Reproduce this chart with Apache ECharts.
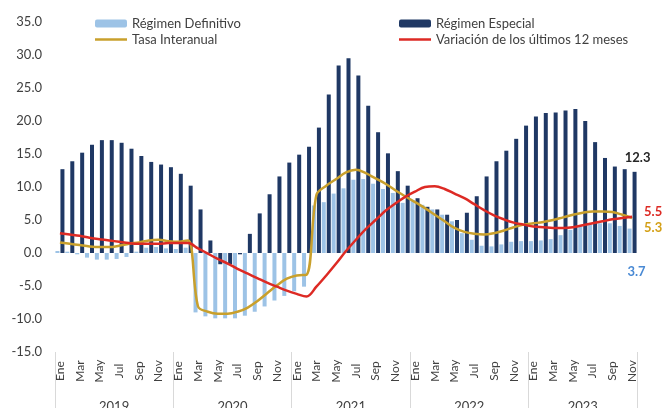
<!DOCTYPE html>
<html><head><meta charset="utf-8">
<script src="https://cdn.jsdelivr.net/npm/echarts@6/dist/echarts.min.js"></script>
<style>html,body{margin:0;padding:0;background:#fff}#c{width:664px;height:408px}</style>
</head><body><div id="c"></div>
<script>
const years = ['2019','2020','2021','2022','2023'];
const monthNames = ['Ene','Feb','Mar','Abr','May','Jun','Jul','Ago','Sep','Oct','Nov','Dic'];
const monthsPerYear = [12,12,12,12,11];

const regimenDefinitivo = [
  0.3, 0.2, -0.2, -0.7, -1.0, -1.0, -0.9, -0.6, 0.2, 0.8, 0.9, 0.7,
  0.6, 0.8, -9.0, -9.6, -9.9, -9.9, -9.9, -9.5, -8.9, -8.1, -7.2, -6.5,
  -5.8, -5.1, 7.2, 7.7, 9.0, 9.8, 11.1, 11.2, 10.5, 9.7, 9.1, 7.6,
  8.0, 7.3, 6.6, 5.8, 4.8, 3.0, 2.0, 1.1, 1.0, 1.3, 1.7, 1.8,
  1.8, 1.9, 2.1, 2.7, 3.5, 4.1, 4.4, 4.5, 4.5, 4.1, 3.7
];
const regimenEspecial = [
  12.7, 13.9, 15.2, 16.4, 17.1, 17.1, 16.7, 15.8, 14.7, 13.8, 13.4, 13.0,
  12.0, 10.2, 6.6, 1.9, -1.7, -1.7, -0.2, 2.9, 6.0, 8.9, 11.6, 13.7,
  14.9, 16.1, 19.0, 24.0, 28.4, 29.5, 26.9, 22.3, 18.3, 15.1, 12.4, 10.2,
  8.3, 7.0, 6.6, 5.8, 5.0, 6.1, 8.6, 11.6, 13.9, 15.5, 17.3, 19.3,
  20.7, 21.2, 21.3, 21.6, 21.8, 20.0, 16.8, 14.4, 13.1, 12.7, 12.3
];
const tasaInteranual = [
  1.6, 1.4, 1.2, 1.0, 0.9, 0.9, 1.1, 1.4, 1.6, 1.9, 2.0, 1.8,
  1.7, 1.9, -8.1, -8.9, -9.2, -9.2, -8.9, -8.3, -7.3, -6.1, -4.9, -3.9,
  -3.4, -3.3, 8.8, 10.2, 11.2, 12.2, 12.6, 12.1, 11.3, 10.5, 9.5, 8.6,
  7.7, 6.8, 5.8, 4.8, 3.8, 3.2, 2.9, 2.8, 3.0, 3.4, 3.9, 4.3,
  4.5, 4.7, 5.0, 5.4, 5.8, 6.1, 6.3, 6.3, 6.2, 5.8, 5.3
];
const variacion12 = [
  3.0, 2.8, 2.6, 2.3, 2.1, 1.9, 1.7, 1.5, 1.4, 1.4, 1.4, 1.5,
  1.5, 1.5, 0.7, -0.1, -0.9, -1.6, -2.4, -3.1, -3.8, -4.5, -5.1, -5.7,
  -6.2, -6.6, -5.1, -3.4, -1.6, 0.3, 2.0, 3.6, 5.0, 6.4, 7.5, 8.5,
  9.3, 10.0, 10.1, 9.7, 9.0, 8.3, 7.4, 6.5, 5.7, 5.1, 4.6, 4.3,
  4.0, 3.9, 3.8, 3.8, 3.9, 4.2, 4.5, 4.8, 5.1, 5.3, 5.5
];
const yMin = -15, yMax = 35, yStep = 5;

// categories
const categories = [];
const yearStart = [];
years.forEach((y, k) => {
  yearStart.push(categories.length);
  for (let m = 0; m < monthsPerYear[k]; m++) categories.push(monthNames[m] + ' ' + y);
});
const yearLabelIdx = {};
years.forEach((y, k) => {
  const mid = yearStart[k] + Math.floor(monthsPerYear[k] / 2);
  yearLabelIdx[mid] = k;
});

const FONT = 'Lato';
const C_LIGHT = '#9DC3E6', C_DARK = '#1F3864', C_GOLD = '#C9A02C', C_RED = '#DD2A24';
const LINE_ICON = 'path://M0,0 L32,0 L32,2.5 L0,2.5 Z';

function lastLabel(arr, label) {
  return arr.map((v, i) => i === arr.length - 1 ? { value: v, label: label } : v);
}

const chart = echarts.init(document.getElementById('c'), null, { renderer: 'canvas' });
chart.setOption({
  animation: false,
  backgroundColor: '#fff',
  textStyle: { fontFamily: FONT },
  grid: { left: 55, right: 27, top: 22, bottom: 56, containLabel: false, outerBoundsMode: 'none' },
  legend: [
    { left: 90, top: 12, orient: 'vertical', itemWidth: 32, itemHeight: 8, itemGap: 3,
      textStyle: { fontFamily: FONT, fontSize: 13, color: '#404040' },
      data: ['Régimen Definitivo', { name: 'Tasa Interanual', icon: LINE_ICON }] },
    { left: 394, top: 12, orient: 'vertical', itemWidth: 32, itemHeight: 8, itemGap: 3,
      textStyle: { fontFamily: FONT, fontSize: 13, color: '#404040' },
      data: ['Régimen Especial', { name: 'Variación de los últimos 12 meses', icon: LINE_ICON }] }
  ],
  xAxis: [
    { type: 'category', data: categories, position: 'bottom',
      axisLine: { show: false }, axisTick: { show: false },
      axisLabel: { interval: 1, rotate: 90, align: 'center', verticalAlign: 'middle', margin: 19,
        fontFamily: FONT, fontSize: 12, color: '#404040',
        formatter: v => v.split(' ')[0] } },
    { type: 'category', data: categories, position: 'bottom',
      axisLine: { show: false },
      axisTick: { show: true, length: 60, interval: (i) => yearStart.indexOf(i) >= 0,
        lineStyle: { color: '#d9d9d9', width: 1 } },
      axisLabel: { interval: (i) => yearLabelIdx[i] !== undefined, margin: 48,
        fontFamily: FONT, fontSize: 13, color: '#404040',
        formatter: (v, i) => {
          const k = yearLabelIdx[i];
          return monthsPerYear[k] === 12 ? '{a|' + years[k] + '}' : '{b|' + years[k] + '}';
        },
        rich: { a: { padding: [0, 10, 0, 0], fontFamily: FONT, fontSize: 13, color: '#404040' },
                b: { fontFamily: FONT, fontSize: 13, color: '#404040' } } } }
  ],
  yAxis: {
    type: 'value', min: yMin, max: yMax, interval: yStep,
    axisLine: { show: false }, axisTick: { show: false }, splitLine: { show: false },
    axisLabel: { margin: 13, fontFamily: FONT, fontSize: 13, color: '#404040',
      formatter: v => v.toFixed(1) }
  },
  series: [
    { name: 'Régimen Definitivo', type: 'bar', barWidth: 4, barGap: '25%',
      itemStyle: { color: C_LIGHT },
      data: lastLabel(regimenDefinitivo, { show: true, position: 'bottom', distance: 12, offset: [7, 0],
        color: '#4A8AD4', fontWeight: 'bold', fontSize: 13, fontFamily: FONT, formatter: p => p.value.toFixed(1) }) },
    { name: 'Régimen Especial', type: 'bar', barWidth: 4, barGap: '25%',
      itemStyle: { color: C_DARK },
      data: lastLabel(regimenEspecial, { show: true, position: 'top', distance: 8, offset: [3, 0],
        color: '#262626', fontWeight: 'bold', fontSize: 13, fontFamily: FONT, formatter: p => p.value.toFixed(1) }) },
    { name: 'Tasa Interanual', type: 'line', smooth: 0.35, symbol: 'none', showSymbol: false,
      lineStyle: { color: C_GOLD, width: 2.5 }, itemStyle: { color: C_GOLD }, z: 3,
      endLabel: { show: true, distance: 12, offset: [0, 10], color: '#D4A017', fontWeight: 'bold',
        fontSize: 13, fontFamily: FONT, formatter: p => Number(p.value).toFixed(1) },
      data: tasaInteranual },
    { name: 'Variación de los últimos 12 meses', type: 'line', smooth: 0.35, symbol: 'none', showSymbol: false,
      lineStyle: { color: C_RED, width: 2.5 }, itemStyle: { color: C_RED }, z: 4,
      endLabel: { show: true, distance: 12, offset: [0, -5], color: C_RED, fontWeight: 'bold',
        fontSize: 13, fontFamily: FONT, formatter: p => Number(p.value).toFixed(1) },
      data: variacion12 }
  ]
});
</script></body></html>
